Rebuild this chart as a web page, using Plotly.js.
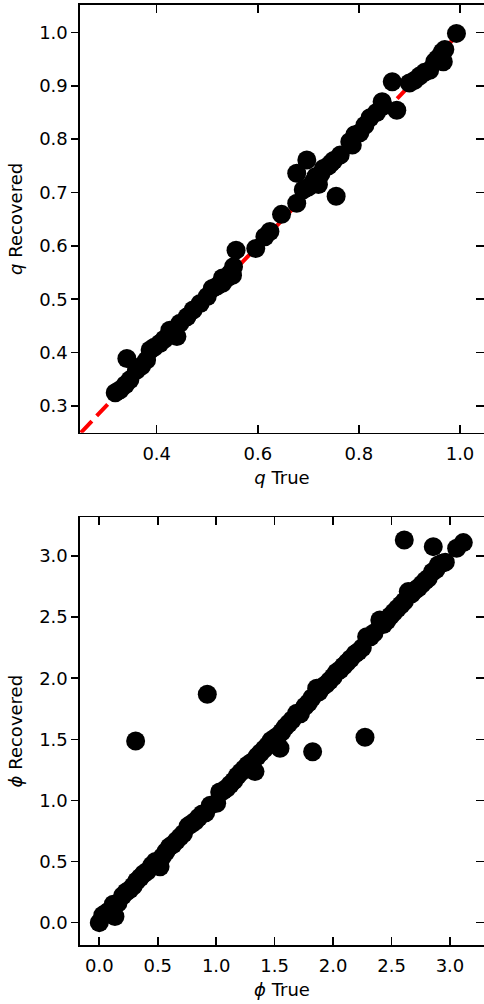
<!DOCTYPE html>
<html>
<head>
<meta charset="utf-8">
<script src="https://cdn.plot.ly/plotly-3.0.1.min.js"></script>
<style>html,body{margin:0;padding:0;background:#fff;overflow:hidden}#chart{width:484px;height:1004px}</style>
</head>
<body>
<div id="chart"></div>
<script>
// ---- data: q (mass ratio) ----
const qTrue = [0.993,0.967,0.970,0.965,0.960,0.955,0.950,0.940,0.930,0.920,0.910,0.900,0.866,0.875,0.846,0.848,0.835,0.822,0.812,0.802,0.792,0.782,0.787,0.763,0.755,0.750,0.745,0.740,0.730,0.725,0.720,0.715,0.710,0.700,0.690,0.697,0.677,0.677,0.647,0.624,0.614,0.596,0.557,0.552,0.550,0.540,0.530,0.520,0.510,0.530,0.545,0.500,0.486,0.472,0.460,0.446,0.440,0.426,0.415,0.406,0.395,0.387,0.380,0.370,0.360,0.341,0.347,0.338,0.327,0.318];
const qRec  = [0.998,0.945,0.968,0.963,0.955,0.950,0.945,0.929,0.925,0.918,0.910,0.905,0.9075,0.854,0.870,0.862,0.850,0.840,0.826,0.812,0.808,0.795,0.789,0.770,0.693,0.760,0.755,0.750,0.745,0.735,0.715,0.730,0.720,0.710,0.705,0.761,0.736,0.680,0.659,0.627,0.617,0.595,0.592,0.561,0.545,0.540,0.540,0.525,0.520,0.530,0.548,0.505,0.492,0.480,0.467,0.455,0.430,0.442,0.425,0.417,0.410,0.405,0.386,0.375,0.367,0.389,0.349,0.340,0.330,0.325];
const qLine = [0.25, 1.0];

// ---- data: phi ----
const phiTrue = [0.00,0.03,0.06,0.09,0.134,0.12,0.16,0.20,0.23,0.26,0.29,0.32,0.35,0.38,0.41,0.45,0.48,0.52,0.54,0.57,0.60,0.63,0.66,0.69,0.72,0.76,0.79,0.82,0.85,0.88,0.91,0.95,1.004,1.03,1.06,1.09,1.12,1.15,1.18,1.21,1.24,1.27,1.30,1.332,1.35,1.38,1.41,1.44,1.47,1.50,1.53,1.546,1.56,1.59,1.62,1.65,1.689,1.72,1.76,1.79,1.82,1.86,1.88,1.91,1.94,1.97,2.00,2.03,2.06,2.09,2.12,2.15,2.19,2.216,2.25,2.287,2.32,2.35,2.40,2.43,2.46,2.49,2.52,2.55,2.58,2.61,2.643,2.67,2.70,2.73,2.76,2.79,2.814,2.85,2.88,2.90,2.93,2.96,0.311,0.924,1.825,2.273,2.609,2.857,3.057,3.114];
const phiRec  = [0.00,0.06,0.08,0.10,0.05,0.15,0.16,0.22,0.25,0.27,0.30,0.34,0.37,0.40,0.42,0.47,0.50,0.458,0.54,0.58,0.62,0.64,0.67,0.70,0.73,0.79,0.81,0.83,0.86,0.89,0.90,0.96,0.977,1.07,1.08,1.10,1.13,1.16,1.20,1.23,1.26,1.29,1.31,1.236,1.36,1.39,1.42,1.45,1.49,1.51,1.53,1.427,1.56,1.60,1.63,1.66,1.713,1.71,1.77,1.80,1.84,1.918,1.89,1.93,1.95,1.98,2.01,2.05,2.07,2.10,2.13,2.16,2.20,2.218,2.25,2.34,2.34,2.37,2.477,2.44,2.47,2.51,2.54,2.57,2.60,2.63,2.709,2.69,2.72,2.74,2.77,2.80,2.818,2.87,2.89,2.927,2.94,2.95,1.487,1.869,1.399,1.517,3.132,3.077,3.064,3.110];
const phiLine = [0, Math.PI];

const W = 484, H = 1004;
const font = {family: 'DejaVu Sans, sans-serif', size: 18, color: '#000'};
const lineStyle = {color: 'red', width: 4, dash: '16px,7px'};
const mk = {color: '#000', size: 19, line: {width: 0}};

const traces = [
  {x: qLine, y: qLine, xaxis: 'x', yaxis: 'y', mode: 'lines', line: lineStyle, hoverinfo: 'skip'},
  {x: qTrue, y: qRec, xaxis: 'x', yaxis: 'y', mode: 'markers', marker: mk},
  {x: phiLine, y: phiLine, xaxis: 'x2', yaxis: 'y2', mode: 'lines', line: lineStyle, hoverinfo: 'skip'},
  {x: phiTrue, y: phiRec, xaxis: 'x2', yaxis: 'y2', mode: 'markers', marker: mk},
  {x: [null], y: [null], xaxis: 'x', yaxis: 'y3', mode: 'markers', hoverinfo: 'skip'},
  {x: [null], y: [null], xaxis: 'x2', yaxis: 'y4', mode: 'markers', hoverinfo: 'skip'}
];

const xDom = [80 / W, 1];
const dTop = [1 - 432.7 / H, 1 - 5 / H];
const dBot = [1 - 945 / H, 1 - 517.3 / H];
const common = {showgrid: false, zeroline: false, showline: true, linecolor: '#000', linewidth: 1.6,
  tickcolor: '#000', tickwidth: 1.6, tickfont: font, automargin: false};

const layout = {
  width: W, height: H, showlegend: false,
  margin: {l: 0, r: 0, t: 0, b: 0},
  paper_bgcolor: '#fff', plot_bgcolor: '#fff', font: font,
  xaxis: Object.assign({}, common, {domain: xDom, anchor: 'y', range: [0.2483, 1.0475],
    tick0: 0, dtick: 0.2, tickformat: '.1f', ticks: 'inside', ticklen: 8, mirror: 'ticks',
    ticklabelstandoff: 4,
    title: {text: '<i>q</i> True', font: font, standoff: 8}}),
  yaxis: Object.assign({}, common, {domain: dTop, anchor: 'x', range: [0.25, 1.0512],
    tick0: 0, dtick: 0.1, tickformat: '.1f', ticks: 'outside', ticklen: 7,
    title: {text: '<i>q</i> Recovered', font: font, standoff: 12}}),
  yaxis3: {overlaying: 'y', side: 'right', anchor: 'x', range: [0.25, 1.0512], tick0: 0, dtick: 0.1,
    ticks: 'inside', ticklen: 8, tickwidth: 1.6, tickcolor: '#000', showticklabels: false,
    showgrid: false, zeroline: false, showline: false},
  xaxis2: Object.assign({}, common, {domain: xDom, anchor: 'y2', range: [-0.165, 3.291],
    tick0: 0, dtick: 0.5, tickformat: '.1f', ticks: 'inside', ticklen: 8, mirror: 'ticks',
    ticklabelstandoff: 4,
    title: {text: '<i>ϕ</i> True', font: font, standoff: 8}}),
  yaxis2: Object.assign({}, common, {domain: dBot, anchor: 'x2', range: [-0.183, 3.317],
    tick0: 0, dtick: 0.5, tickformat: '.1f', ticks: 'outside', ticklen: 7,
    title: {text: '<i>ϕ</i> Recovered', font: font, standoff: 12}}),
  yaxis4: {overlaying: 'y2', side: 'right', anchor: 'x2', range: [-0.183, 3.317], tick0: 0, dtick: 0.5,
    ticks: 'inside', ticklen: 8, tickwidth: 1.6, tickcolor: '#000', showticklabels: false,
    showgrid: false, zeroline: false, showline: false}
};

Plotly.newPlot('chart', traces, layout, {staticPlot: true, displayModeBar: false});
</script>
</body>
</html>
